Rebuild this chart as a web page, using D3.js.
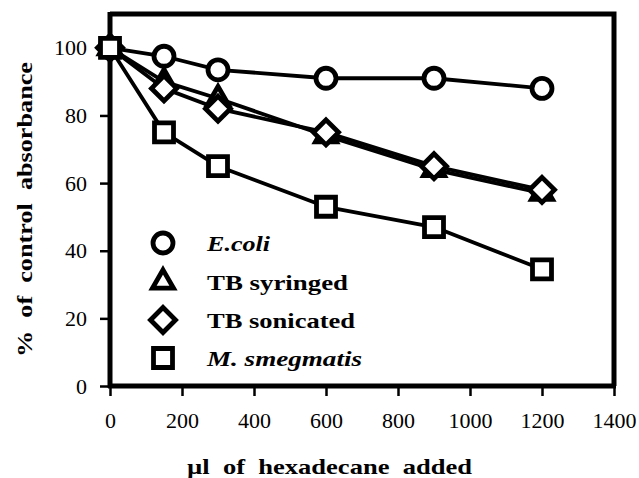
<!DOCTYPE html>
<html>
<head>
<meta charset="utf-8">
<script src="https://cdn.jsdelivr.net/npm/d3@7"></script>
</head>
<body style="margin:0;background:#fff">
<svg id="chart" width="639" height="478" style="display:block;background:#fff"></svg>
<script>
// Hexadecane volume added (µl)
const volumes = [0, 150, 300, 600, 900, 1200];

// % of control absorbance per strain
const ecoli       = [100, 97.5, 93.5, 91, 91, 88];
const tbSyringed  = [100, 90, 85, 74, 64, 57];
const tbSonicated = [100, 88, 82, 75, 65, 58];
const mSmegmatis  = [100, 75, 65, 53, 47, 34.5];

const seriesNames = ["E.coli", "TB syringed", "TB sonicated", "M. smegmatis"];
const seriesItalic = [true, false, false, true];
const seriesShapes = ["circle", "triangle", "diamond", "square"];

const xTicks = [0, 200, 400, 600, 800, 1000, 1200, 1400];
const yTicks = [0, 20, 40, 60, 80, 100];

const FONT = "Liberation Serif";
const svg = d3.select("#chart").attr("font-family", FONT);
const plotLeft = 110, plotRight = 614, plotTop = 14, plotBottom = 386;

const x = d3.scaleLinear().domain([0, 1400]).range([plotLeft, plotRight]);
const y = d3.scaleLinear().domain([0, 110]).range([plotBottom, plotTop]);

// plot frame (top and right sides)
svg.append("path")
  .attr("d", `M${plotLeft},${plotTop}H${plotRight}V${plotBottom}`)
  .attr("fill", "none").attr("stroke", "#000").attr("stroke-width", 5);

// x axis
const gx = svg.append("g").attr("transform", `translate(0,${plotBottom})`)
  .call(d3.axisBottom(x).tickValues(xTicks).tickSize(10).tickPadding(16).tickFormat(d3.format("d")));
gx.attr("font-family", FONT).attr("font-size", 22);
gx.select(".domain").attr("stroke-width", 5).attr("d", `M${plotLeft - 2},0H${plotRight + 2}`);
gx.selectAll(".tick line").attr("stroke-width", 2.5);
gx.selectAll(".tick text").attr("font-family", FONT).attr("font-size", 22).attr("fill", "#000");

// y axis
const gy = svg.append("g").attr("transform", `translate(${plotLeft},0)`)
  .call(d3.axisLeft(y).tickValues(yTicks).tickSize(10).tickPadding(13).tickFormat(d3.format("d")));
gy.attr("font-family", FONT).attr("font-size", 22);
gy.select(".domain").attr("stroke-width", 5).attr("d", `M0,${plotTop - 2}V${plotBottom + 2}`);
gy.selectAll(".tick line").attr("stroke-width", 2.5);
gy.selectAll(".tick text").attr("font-family", FONT).attr("font-size", 22).attr("fill", "#000");

// axis titles
svg.append("text")
  .attr("x", 187).attr("y", 474)
  .attr("font-family", FONT).attr("font-size", 22).attr("font-weight", "bold")
  .style("white-space", "pre")
  .attr("textLength", 285).attr("lengthAdjust", "spacingAndGlyphs")
  .text("\u00b5l  of  hexadecane  added");

svg.append("text")
  .attr("transform", "translate(32,357) rotate(-90)")
  .attr("font-family", FONT).attr("font-size", 22).attr("font-weight", "bold")
  .style("white-space", "pre")
  .attr("textLength", 295).attr("lengthAdjust", "spacingAndGlyphs")
  .text("%  of  control  absorbance");

// marker shapes
function markerPath(shape) {
  switch (shape) {
    case "circle": return d3.symbol(d3.symbolCircle, Math.PI * 10 * 10)();
    case "square": return d3.symbol(d3.symbolSquare, 19 * 19)();
    case "triangle": return d3.symbol(d3.symbolTriangle, 190)();
    case "diamond": {
      const s = 12.5;
      return `M0,${-s}L${s},0L0,${s}L${-s},0Z`;
    }
  }
}

const allSeries = [ecoli, tbSyringed, tbSonicated, mSmegmatis];
const line = d3.line().x((d, i) => x(volumes[i])).y(d => y(d));

allSeries.forEach((vals, k) => {
  const g = svg.append("g");
  g.append("path").datum(vals).attr("d", line)
    .attr("fill", "none").attr("stroke", "#000").attr("stroke-width", 3.8)
    .attr("stroke-linejoin", "round");
  g.selectAll("path.m").data(vals).join("path").attr("class", "m")
    .attr("transform", (d, i) => `translate(${x(volumes[i])},${y(d)})`)
    .attr("d", markerPath(seriesShapes[k]))
    .attr("fill", "#fff").attr("stroke", "#000").attr("stroke-width", 4.8)
    .attr("stroke-linejoin", "miter");
});

// legend
const legendY = [243, 282, 320, 358];
const legendW = [63, 141, 148, 155];
seriesNames.forEach((name, k) => {
  svg.append("path")
    .attr("transform", `translate(163,${legendY[k]})`)
    .attr("d", markerPath(seriesShapes[k]))
    .attr("fill", "#fff").attr("stroke", "#000").attr("stroke-width", 4.8);
  svg.append("text")
    .attr("x", 207).attr("y", legendY[k] + 8)
    .attr("font-family", FONT).attr("font-size", 22).attr("font-weight", "bold")
    .attr("font-style", seriesItalic[k] ? "italic" : "normal")
    .attr("textLength", legendW[k]).attr("lengthAdjust", "spacingAndGlyphs")
    .text(name);
});
</script>
</body>
</html>
